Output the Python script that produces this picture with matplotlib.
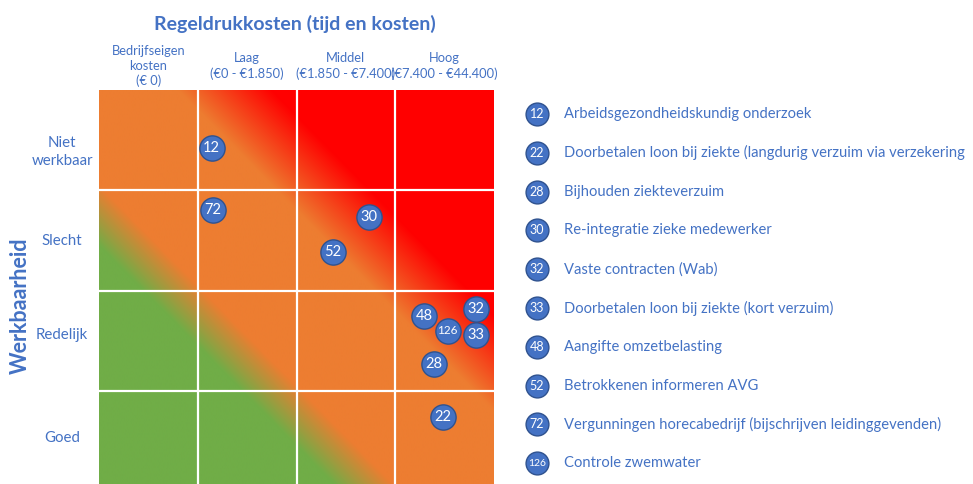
import numpy as np
import matplotlib
matplotlib.use("Agg")
import matplotlib.pyplot as plt
from matplotlib.colors import to_rgb
from matplotlib.transforms import blended_transform_factory

plt.rcParams['font.family'] = ['Lato', 'DejaVu Sans']

# categories
cost_levels = ["Bedrijfseigen\nkosten\n(€ 0)", "Laag\n(€0 - €1.850)",
               "Middel\n(€1.850 - €7.400)", "Hoog\n(€7.400 - €44.400)"]
workability = ["Goed", "Redelijk", "Slecht", "Niet\nwerkbaar"]  # bottom -> top

# items: position on cost axis (x) and workability axis (y)
item_ids = [12, 22, 28, 30, 32, 33, 48, 52, 72, 126]
item_names = [
    "Arbeidsgezondheidskundig onderzoek",
    "Doorbetalen loon bij ziekte (langdurig verzuim via verzekering",
    "Bijhouden ziekteverzuim",
    "Re-integratie zieke medewerker",
    "Vaste contracten (Wab)",
    "Doorbetalen loon bij ziekte (kort verzuim)",
    "Aangifte omzetbelasting",
    "Betrokkenen informeren AVG",
    "Vergunningen horecabedrijf (bijschrijven leidinggevenden)",
    "Controle zwemwater",
]
item_cost = [1.14, 3.48, 3.39, 2.73, 3.82, 3.82, 3.29, 2.37, 1.15, 3.53]
item_work = [3.42, 0.74, 1.27, 2.73, 1.82, 1.56, 1.75, 2.38, 2.80, 1.60]

# diagonal risk bands (x + y): green -> orange -> red
green_band = (2.45, 3.05)
red_band = (4.8, 5.75)

GREEN, ORANGE, RED = '#70AD47', '#ED7D31', '#FF0000'
BLUE, DARKBLUE = '#4472C4', '#2F528F'

W, H = 973, 484
fig = plt.figure(figsize=(W / 100, H / 100), dpi=100)

# main matrix axes (bottom row runs slightly off the canvas)
ax = fig.add_axes([99 / W, (H - 491) / H, 395 / W, 401 / H])
n = len(cost_levels)
m = len(workability)

res = 800
xs = np.linspace(0, n, res)
ys = np.linspace(0, m, res)
X, Y = np.meshgrid(xs, ys)
d = X + Y
wg = np.clip((d - green_band[0]) / (green_band[1] - green_band[0]), 0, 1)
wr = np.clip((d - red_band[0]) / (red_band[1] - red_band[0]), 0, 1)
g, o, r = (np.array(to_rgb(c)) for c in (GREEN, ORANGE, RED))
img = g * (1 - wg)[..., None] + o * wg[..., None]
img = img * (1 - wr)[..., None] + r * wr[..., None]
ax.imshow(img, extent=[0, n, 0, m], origin='lower', aspect='auto',
          interpolation='bilinear')

for i in range(1, n):
    ax.axvline(i, color='white', lw=1.6)
for j in range(1, m):
    ax.axhline(j, color='white', lw=1.6)
ax.set_xlim(0, n)
ax.set_ylim(0, m)
ax.set_xticks([])
ax.set_yticks([])
for s in ax.spines.values():
    s.set_visible(False)

# bubbles
ax.scatter(item_cost, item_work, s=330, color=BLUE, edgecolor=DARKBLUE,
           linewidth=1.0, zorder=3)
for x, y, lab in zip(item_cost, item_work, item_ids):
    ax.text(x, y, str(lab), color='white', ha='center', va='center',
            fontsize=10.5 if lab < 100 else 8.5, zorder=4)

# column headers
tx = blended_transform_factory(ax.transData, fig.transFigure)
for i, lab in enumerate(cost_levels):
    ax.text(i + 0.5, 1 - 66 / H, lab, transform=tx, ha='center', va='center',
            color=BLUE, fontsize=9.3, linespacing=1.3, clip_on=False)

# row labels (pixel centres from the top)
row_label_y = [438, 335, 241, 152]
for lab, py in zip(workability, row_label_y):
    fig.text(62 / W, 1 - py / H, lab, ha='center', va='center',
             color=BLUE, fontsize=10.8, linespacing=1.35)

fig.text(295 / W, 1 - 24 / H, "Regeldrukkosten (tijd en kosten)", ha='center',
         va='center', color=BLUE, fontsize=14, fontweight='bold')
fig.text(20 / W, 1 - 306 / H, "Werkbaarheid", ha='center', va='center',
         rotation=90, color=BLUE, fontsize=15.5, fontweight='bold')

# legend
lax = fig.add_axes([0, 0, 1, 1])
lax.set_xlim(0, W)
lax.set_ylim(H, 0)
lax.axis('off')
leg_y = [114 + k * 38.8 for k in range(len(item_ids))]
lax.scatter([537] * len(item_ids), leg_y, s=270, color=BLUE,
            edgecolor=DARKBLUE, linewidth=1.0)
for y, lab, name in zip(leg_y, item_ids, item_names):
    lax.text(537, y, str(lab), color='white', ha='center', va='center',
             fontsize=9 if lab < 100 else 7.5)
    lax.text(564, y, name, color=BLUE, ha='left', va='center', fontsize=10.6)

fig.savefig('out.png', dpi=100)
